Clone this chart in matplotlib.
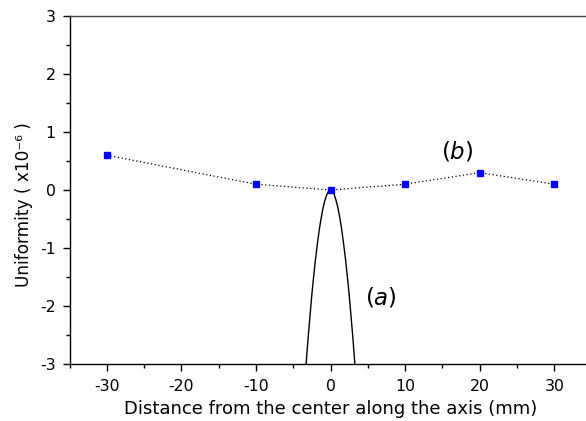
import matplotlib
matplotlib.use("Agg")
import matplotlib.pyplot as plt
from matplotlib.ticker import MultipleLocator

plt.rcParams['font.family'] = ['DejaVu Sans']
plt.rcParams['axes.unicode_minus'] = False

# (b) measured uniformity
pos_b = [-30, -10, 0, 10, 20, 30]
unif_b = [0.6, 0.1, 0.0, 0.1, 0.3, 0.1]

# (a) curve
pos_a = [-3.27, -3.0, -2.75, -2.5, -2.25, -2.0, -1.75, -1.5, -1.25, -1.0, -0.75, -0.5, -0.25, 0.0,
         0.25, 0.5, 0.75, 1.0, 1.25, 1.5, 1.75, 2.0, 2.25, 2.5, 2.75, 3.0, 3.27]
unif_a = [-3.0, -2.55, -2.17, -1.8, -1.48, -1.18, -0.92, -0.68, -0.48, -0.31, -0.18, -0.08, -0.02, 0.0,
          -0.02, -0.08, -0.18, -0.31, -0.48, -0.68, -0.92, -1.18, -1.48, -1.8, -2.17, -2.55, -3.0]

fig = plt.figure(figsize=(5.86, 4.21), dpi=100)
ax = fig.add_axes([69.5 / 586, 1 - 364 / 421, 522 / 586, 348 / 421])

ax.plot(pos_a, unif_a, color='black', lw=1.0)
ax.plot(pos_b, unif_b, color='black', lw=0.9, ls=(0, (1, 2)))
ax.plot(pos_b, unif_b, ls='none', marker='s', ms=5, color='#0000ff', zorder=3)

ax.set_xlim(-35, 35)
ax.set_ylim(-3, 3)
ax.xaxis.set_major_locator(MultipleLocator(10))
ax.xaxis.set_minor_locator(MultipleLocator(5))
ax.yaxis.set_major_locator(MultipleLocator(1))
ax.yaxis.set_minor_locator(MultipleLocator(0.5))
ax.tick_params(which='major', direction='out', length=5, width=1, labelsize=11.3)
ax.tick_params(axis='x', which='major', pad=6)
ax.tick_params(axis='y', which='major', pad=5)
ax.tick_params(which='minor', direction='out', length=3, width=1)
for s in ax.spines.values():
    s.set_linewidth(1.0)
ax.spines['top'].set_color('#444444')

ax.set_xlabel('Distance from the center along the axis (mm)', fontsize=13, labelpad=4)
ax.set_ylabel('Uniformity ( x10\u207b\u2076 )', fontsize=12.2)
ax.yaxis.set_label_coords(-0.07, 0.457)

ax.text(17.0, 0.67, '($\\mathit{b}$)', fontsize=16.5, ha='center', va='center')
ax.text(6.7, -1.86, '($\\mathit{a}$)', fontsize=16.5, ha='center', va='center')

fig.savefig('out.png', dpi=100)
